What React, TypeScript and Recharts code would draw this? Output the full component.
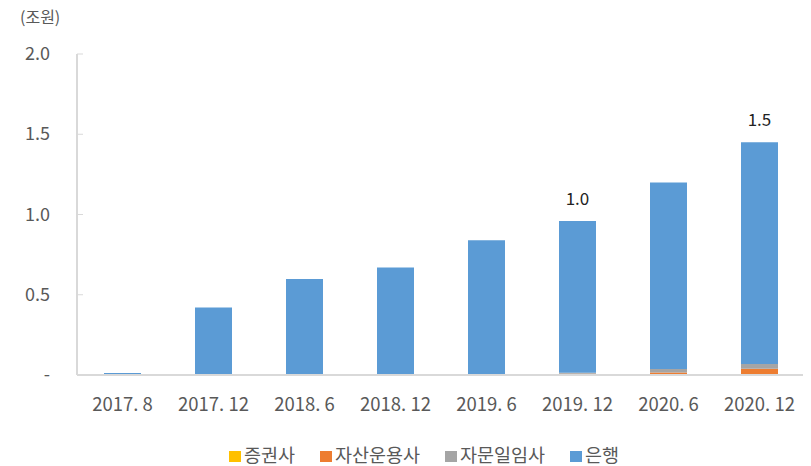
import { BarChart, Bar, XAxis, YAxis, LabelList } from 'recharts'

const periods = ['2017. 8', '2017. 12', '2018. 6', '2018. 12', '2019. 6', '2019. 12', '2020. 6', '2020. 12']
const securities = [0, 0, 0.003, 0.003, 0.003, 0.004, 0.004, 0.004]
const assetMgmt = [0, 0, 0, 0, 0, 0.004, 0.012, 0.035]
const advisory = [0.004, 0.002, 0.003, 0.003, 0.003, 0.006, 0.022, 0.03]
const banks = [0.008, 0.418, 0.592, 0.664, 0.834, 0.946, 1.162, 1.381]
const totalLabels = ['', '', '', '', '', '1.0', '', '1.5']

const yTicks = [0, 0.5, 1, 1.5, 2]

const seriesInfo = [
  { key: 'securities', name: '증권사', color: '#FFC000' },
  { key: 'assetMgmt', name: '자산운용사', color: '#ED7D31' },
  { key: 'advisory', name: '자문일임사', color: '#A5A5A5' },
  { key: 'banks', name: '은행', color: '#5B9BD5' },
]

const data = periods.map((p, i) => ({
  period: p,
  securities: securities[i],
  assetMgmt: assetMgmt[i],
  advisory: advisory[i],
  banks: banks[i],
  label: totalLabels[i],
}))

const FONT = '"Noto Sans CJK KR", "Noto Sans", sans-serif'

// body keeps its 8px margin, so everything below is placed 8px up/left
function YTick(props: any) {
  const { x, y, payload } = props
  const v = payload.value
  const text = v === 0 ? '-' : v.toFixed(1)
  return (
    <g>
      {v !== 0 && <line x1={x + 27} x2={x + 33} y1={y} y2={y} stroke="#D9D9D9" strokeWidth={1} />}
      <text x={x} y={y} dy={6} textAnchor="end" fill="#595959" fontSize={18} fontFamily={FONT}>
        {text}
      </text>
    </g>
  )
}

function LegendRow() {
  let x = 221
  const widths = [91, 125, 125, 60]
  return (
    <svg width={803} height={40} style={{ position: 'absolute', left: 0, top: 418 }}>
      {seriesInfo.map((s, i) => {
        const x0 = x
        x += widths[i]
        return (
          <g key={s.key}>
            <rect x={x0} y={25} width={12} height={11} fill={s.color} />
            <text x={x0 + 15} y={36} fontSize={18.5} fill="#595959" fontFamily={FONT}>
              {s.name}
            </text>
          </g>
        )
      })}
    </svg>
  )
}

export default function App() {
  return (
    <div style={{ position: 'relative', width: 803, height: 458, background: '#fff', fontFamily: FONT }}>
      <div style={{ position: 'absolute', left: 12, top: -4, fontSize: 16, color: '#595959' }}>(조원)</div>
      <BarChart width={803} height={458} data={data} margin={{ top: 46, right: 6, bottom: 61, left: 0 }} barSize={37}>
        <XAxis
          dataKey="period"
          axisLine={{ stroke: '#D9D9D9', strokeWidth: 2 }}
          tickLine={false}
          tickMargin={17}
          tick={{ fill: '#595959', fontSize: 18.5, fontFamily: FONT }}
          interval={0}
        />
        <YAxis
          domain={[0, 2]}
          ticks={yTicks}
          width={69}
          axisLine={{ stroke: '#D9D9D9', strokeWidth: 2 }}
          tickLine={false}
          tickSize={0}
          tickMargin={27}
          tick={<YTick />}
          interval={0}
        />
        {seriesInfo.map((s) => (
          <Bar key={s.key} dataKey={s.key} name={s.name} stackId="a" fill={s.color} isAnimationActive={false}>
            {s.key === 'banks' && (
              <LabelList dataKey="label" position="top" offset={16} fill="#222" fontSize={17} fontFamily={FONT} />
            )}
          </Bar>
        ))}
      </BarChart>
      <LegendRow />
    </div>
  )
}
